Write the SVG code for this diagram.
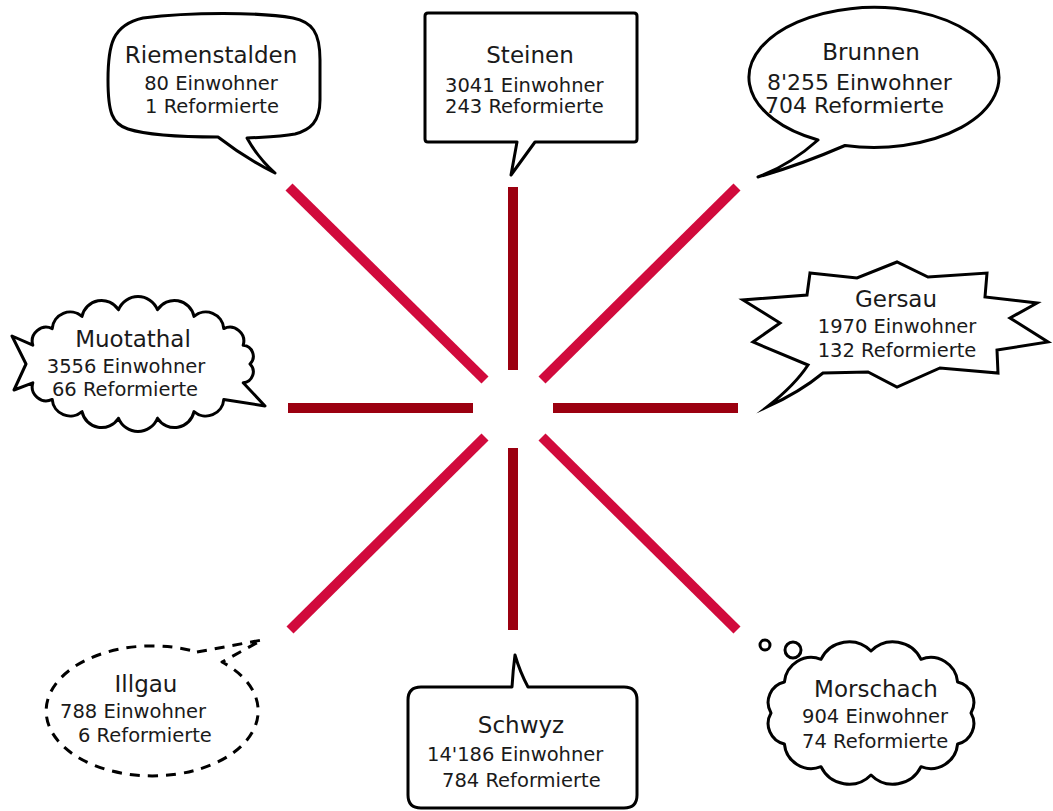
<svg xmlns="http://www.w3.org/2000/svg" width="1053" height="811" viewBox="0 0 1053 811">
<style>
.bg{fill:#ffffff}
.shape{fill:#ffffff;stroke:#000000;stroke-width:3;stroke-linejoin:round}
.dashed{stroke-dasharray:10 8}
.diag{stroke:#d10a3c;stroke-width:10;stroke-linecap:butt;fill:none}
.ortho{stroke:#9b0010;stroke-width:10;stroke-linecap:butt;fill:none}
text{font-family:"DejaVu Sans","Liberation Sans",sans-serif;fill:#1a1a1a}
.t{font-size:23px}
.b{font-size:19.5px}
.bb{font-size:22px}
.c{text-anchor:middle}
.s{text-anchor:start}
</style>
<rect class="bg" x="0" y="0" width="1053" height="811"/>
<g id="connectors">
<line class="diag" x1="289" y1="187" x2="485" y2="380"/>
<line class="ortho" x1="513" y1="187" x2="513" y2="370"/>
<line class="diag" x1="737" y1="187" x2="542" y2="380"/>
<line class="ortho" x1="288" y1="408" x2="473" y2="408"/>
<line class="ortho" x1="553" y1="408" x2="738" y2="408"/>
<line class="diag" x1="485" y1="437" x2="290" y2="630"/>
<line class="ortho" x1="513" y1="448" x2="513" y2="630"/>
<line class="diag" x1="542" y1="437" x2="737" y2="630"/>
</g>
<g id="riemenstalden">
<path class="shape" d="M143,18 C190,12 260,12 293,18 C312,22 320,32 320,60 L320,100 C320,122 310,130 295,134 C280,137 265,137 247,138 Q258,158 275,173 Q245,158 218,137 C185,137 150,136 128,129 C112,124 108,112 108,80 C108,45 112,25 143,18 Z"/>
<text class="t c" x="211" y="63">Riemenstalden</text>
<text class="b c" x="211" y="90">80 Einwohner</text>
<text class="b c" x="212" y="113">1 Reformierte</text>
</g>
<g id="steinen">
<path class="shape" d="M428,13 L634,13 Q637,13 637,16 L637,139 Q637,142 634,142 L535,142 L511,175 L517,142 L428,142 Q425,142 425,139 L425,16 Q425,13 428,13 Z"/>
<text class="t c" x="530" y="63">Steinen</text>
<text class="b s" x="445" y="92">3041 Einwohner</text>
<text class="b s" x="445" y="113">243 Reformierte</text>
</g>
<g id="brunnen">
<path class="shape" d="M818,140 Q790,165 758,177 Q800,165 845,145.5 A125,70 0 1 0 818,140 Z"/>
<text class="t c" x="871" y="60">Brunnen</text>
<text class="bb s" x="767" y="90">8'255 Einwohner</text>
<text class="bb s" x="765" y="113">704 Reformierte</text>
</g>
<g id="muotathal">
<path class="shape" d="M250,364 A11,11 0 0 1 243.2,382.8 L265,406 L223.8,399.4 A18,18 0 0 1 194,411.6 A20,20 0 0 1 157.5,418.2 A21,21 0 0 1 118.5,418.2 A20,20 0 0 1 82,411.6 A18,18 0 0 1 52.2,399.4 A14,14 0 0 1 32.8,382.8 L14,390 L26,364 L12,336 L32.8,345.2 A14,14 0 0 1 52.2,328.6 A18,18 0 0 1 82,316.4 A20,20 0 0 1 118.5,309.8 A21,21 0 0 1 157.5,309.8 A20,20 0 0 1 194,316.4 A18,18 0 0 1 223.8,328.6 A14,14 0 0 1 243.2,345.2 A11,11 0 0 1 250,364 Z"/>
<text class="t c" x="133" y="347">Muotathal</text>
<text class="b c" x="126" y="373">3556 Einwohner</text>
<text class="b c" x="125" y="396">66 Reformierte</text>
</g>
<g id="gersau">
<path class="shape" style="stroke-linejoin:miter;stroke-miterlimit:10" d="M810,273 L857,278 L897,262 L928,277 L987,273 L985,297 L1037,303 L1010,318 L1048,342 L997,350 L998,373 L940,368 L897,387 L868,372 L823,373 Q800,392 767,407 Q795,385 808,365 L753,342 L780,323 L743,300 L807,295 Z"/>
<text class="t c" x="896" y="307">Gersau</text>
<text class="b c" x="897" y="333">1970 Einwohner</text>
<text class="b c" x="897" y="357">132 Reformierte</text>
</g>
<g id="illgau">
<path class="shape dashed" d="M197,652 L262,640 L222,662 A106,65 0 1 1 197,652 Z"/>
<text class="t c" x="146" y="692">Illgau</text>
<text class="b s" x="60" y="718">788 Einwohner</text>
<text class="b s" x="78" y="742">6 Reformierte</text>
</g>
<g id="schwyz">
<path class="shape" d="M421,687 L512,687 Q513,670 515,655 Q520,672 528,687 L624,687 Q637,687 637,700 L637,795 Q637,808 624,808 L421,808 Q408,808 408,795 L408,700 Q408,687 421,687 Z"/>
<text class="t c" x="521" y="733">Schwyz</text>
<text class="b s" x="427" y="761">14'186 Einwohner</text>
<text class="b s" x="442" y="787">784 Reformierte</text>
</g>
<g id="morschach">
<circle class="shape" cx="765" cy="645" r="5"/>
<circle class="shape" cx="793" cy="650" r="8"/>
<path class="shape" d="M971,713 A21,21 0 0 1 957.6,744 A27,27 0 0 1 921,766.7 A31,31 0 0 1 871,775 A31,31 0 0 1 821,766.7 A27,27 0 0 1 784.4,744 A21,21 0 0 1 771,713 A21,21 0 0 1 784.4,682 A27,27 0 0 1 821,659.3 A31,31 0 0 1 871,651 A31,31 0 0 1 921,659.3 A27,27 0 0 1 957.6,682 A21,21 0 0 1 971,713 Z"/>
<text class="t c" x="876" y="697">Morschach</text>
<text class="b s" x="802" y="723">904 Einwohner</text>
<text class="b s" x="802" y="748">74 Reformierte</text>
</g>
</svg>
